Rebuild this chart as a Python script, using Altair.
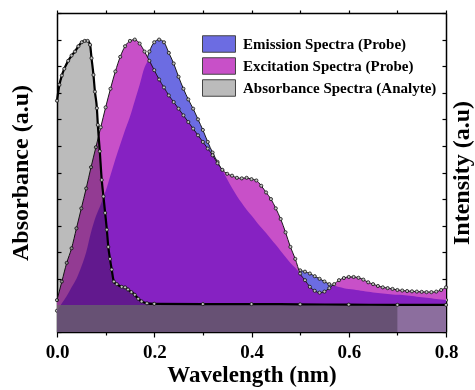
import altair as alt
import pandas as pd

# ---------------- data ----------------
x_grid = [0.00, 0.01, 0.02, 0.03, 0.04, 0.05, 0.06, 0.07, 0.08, 0.09,
          0.10, 0.11, 0.12, 0.13, 0.14, 0.15, 0.16, 0.17, 0.18, 0.19,
          0.20, 0.21, 0.22, 0.23, 0.24, 0.25, 0.26, 0.27, 0.28, 0.29,
          0.30, 0.31, 0.32, 0.33, 0.34, 0.35, 0.36, 0.37, 0.38, 0.39,
          0.40, 0.41, 0.42, 0.43, 0.44, 0.45, 0.46, 0.47, 0.48, 0.49,
          0.50, 0.51, 0.52, 0.53, 0.54, 0.55, 0.56, 0.57, 0.58, 0.59,
          0.60, 0.61, 0.62, 0.63, 0.64, 0.65, 0.66, 0.67, 0.68, 0.69,
          0.70, 0.71, 0.72, 0.73, 0.74, 0.75, 0.76, 0.77, 0.78, 0.79, 0.80]

emission = [0.8, 1.08, 1.35, 1.68, 2.0, 2.45, 3.0, 3.75, 4.35, 4.8,
            5.3, 5.9, 6.5, 7.05, 7.6, 8.1, 8.7, 9.3, 9.95, 10.55,
            10.9, 11.0, 10.9, 10.5, 10.1, 9.6, 9.15, 8.75, 8.4, 8.0,
            7.6, 7.15, 6.75, 6.4, 6.08, 5.75, 5.42, 5.12, 4.85, 4.6,
            4.38, 4.15, 3.93, 3.72, 3.5, 3.28, 3.05, 2.82, 2.6, 2.42,
            2.32, 2.27, 2.2, 2.1, 2.0, 1.9, 1.8, 1.74, 1.69, 1.65,
            1.62, 1.6, 1.57, 1.54, 1.51, 1.49, 1.47, 1.45, 1.43, 1.41,
            1.4, 1.39, 1.37, 1.35, 1.33, 1.31, 1.29, 1.27, 1.24, 1.22, 1.2]

excitation = [1.2, 1.9, 2.6, 3.15, 3.9, 4.65, 5.4, 6.2, 6.95, 7.7,
              8.45, 9.15, 9.8, 10.35, 10.75, 10.95, 11.0, 10.85, 10.55, 10.2,
              9.85, 9.5, 9.2, 8.9, 8.65, 8.4, 8.15, 7.9, 7.65, 7.4,
              7.15, 6.9, 6.65, 6.35, 6.1, 5.95, 5.88, 5.8, 5.78, 5.8,
              5.75, 5.7, 5.5, 5.25, 5.0, 4.65, 4.25, 3.75, 3.2, 2.75,
              2.2, 1.95, 1.7, 1.55, 1.48, 1.52, 1.65, 1.8, 1.95, 2.03,
              2.07, 2.07, 2.04, 1.97, 1.87, 1.8, 1.73, 1.68, 1.65, 1.62,
              1.58, 1.56, 1.54, 1.53, 1.52, 1.51, 1.5, 1.5, 1.52, 1.58, 1.68]

absorb_x = [0.0, 0.005, 0.01, 0.015, 0.023, 0.03, 0.037, 0.044, 0.051, 0.057,
            0.063, 0.068, 0.071, 0.075, 0.078, 0.082, 0.084, 0.088, 0.092, 0.0955,
            0.099, 0.1025, 0.1055, 0.109, 0.1125, 0.117, 0.123, 0.133, 0.14, 0.146,
            0.153, 0.16, 0.167, 0.174, 0.185, 0.2, 0.3, 0.4, 0.5, 0.6, 0.7, 0.8]
absorb_y = [8.7, 9.3, 9.65, 9.9, 10.2, 10.4, 10.55, 10.75, 10.9, 10.95,
            10.95, 10.8, 10.3, 9.67, 9.04, 8.42, 7.79, 6.8, 5.72, 5.1,
            4.48, 3.85, 3.2, 2.75, 2.35, 1.9, 1.8, 1.7, 1.68, 1.6,
            1.5, 1.4, 1.25, 1.15, 1.08, 1.06, 1.05, 1.05, 1.04, 1.03, 1.02, 1.02]

x_ticks = [0.0, 0.1, 0.2, 0.3, 0.4, 0.5, 0.6, 0.7, 0.8]
y_ticks = [0, 1, 2, 3, 4, 5, 6, 7, 8, 9, 10, 11, 12]

series_names = ["Emission Spectra (Probe)", "Excitation Spectra (Probe)",
                "Absorbance Spectra (Analyte)"]
series_colors = ["#6C6CE2", "#C850C8", "#BBBBBB"]
overlap_color = "#8622C2"
band_color = "#8F8F8F"

df_ee = pd.DataFrame({"x": x_grid, "em": emission, "ex": excitation})
df_ab = pd.DataFrame({"x": absorb_x, "ab": absorb_y})

FONT = "Liberation Serif"

xscale = alt.Scale(domain=[0, 0.8], nice=False, zero=False)
yscale = alt.Scale(domain=[0, 12], nice=False, zero=False)
cscale = alt.Scale(domain=series_names, range=series_colors)

axis_common = dict(domainColor="black", domainWidth=1.5, tickColor="black",
                   tickWidth=1.2, grid=False)

x_bottom = alt.X("x:Q", scale=xscale, axis=alt.Axis(
    orient="bottom", values=x_ticks, format=".1f",
    labelExpr="round(datum.value*10) % 2 == 0 ? datum.label : ''",
    tickSize={"condition": {"test": "round(datum.value*10) % 2 == 0", "value": 5}, "value": 3},
    labelFont=FONT, labelFontSize=19, labelFontWeight="bold", labelColor="black",
    labelPadding=5, labelOverlap=False, labelFlush=False,
    title="Wavelength (nm)", titleFont=FONT, titleFontSize=23, titleFontWeight="bold",
    titleColor="black", titlePadding=2, **axis_common))
x_top = alt.X("x:Q", scale=xscale, axis=alt.Axis(
    orient="top", values=x_ticks, labels=False, tickSize=3, title=None, **axis_common))
x_none = alt.X("x:Q", scale=xscale, axis=None)


def y_left(f):
    return alt.Y(f + ":Q", scale=yscale, axis=alt.Axis(
        orient="left", values=y_ticks, labels=False, tickSize={"expr": "-4"},
        title="Absorbance (a.u)", titleFont=FONT, titleFontSize=24, titleFontWeight="bold",
        titleColor="black", titlePadding=24, **axis_common))


def y_right(f):
    return alt.Y(f + ":Q", scale=yscale, axis=alt.Axis(
        orient="right", values=y_ticks, labels=False, tickSize={"expr": "-4"},
        title="Intensity (a.u)", titleFont=FONT, titleFontSize=24, titleFontWeight="bold",
        titleColor="black", titlePadding=3, titleAngle=270, titleBaseline="top",
        **axis_common))


def y_none(f):
    return alt.Y(f + ":Q", scale=yscale, axis=None)


legend = alt.Legend(
    title=None, orient="none", legendX=153, legendY=22, padding=0,
    labelFont=FONT, labelFontSize=15, labelFontWeight="bold", labelColor="black",
    labelLimit=0,
    symbolType="M-2,-1H2V1H-2Z", symbolSize=272, symbolStrokeColor="#444",
    symbolStrokeWidth=1, symbolOpacity=1, labelOffset=15, rowPadding=0)


def series_color():
    return alt.Color("series:N", scale=cscale, legend=legend)


base_ee = alt.Chart(df_ee)
base_ab = alt.Chart(df_ab)

em_area = base_ee.transform_calculate(series="'" + series_names[0] + "'").mark_area(
    interpolate="monotone").encode(x=x_bottom, y=y_left("em"), color=series_color())
em_line = base_ee.mark_line(interpolate="monotone", color="#1a1a1a", strokeWidth=1).encode(
    x=x_none, y=y_none("em"))
em_pts = base_ee.mark_point(filled=True, size=10, fill="#c0c0c0", stroke="#111",
                            strokeWidth=0.8, opacity=1).encode(x=x_none, y=y_none("em"))

ex_area = base_ee.transform_calculate(series="'" + series_names[1] + "'").mark_area(
    interpolate="monotone").encode(x=x_none, y=y_none("ex"), color=series_color())
ov_area = base_ee.transform_calculate(lo="min(datum.em, datum.ex)").mark_area(
    interpolate="monotone", color=overlap_color).encode(x=x_none, y=y_none("lo"))

# baseline band of the absorbance spectrum (its minimum) across the whole range
band = base_ab.transform_joinaggregate(base="min(ab)").mark_area(
    color=band_color, opacity=0.7).encode(x=x_none, y=y_none("base"))

ex_line = base_ee.mark_line(interpolate="monotone", color="#1a1a1a", strokeWidth=1).encode(
    x=x_none, y=y_none("ex"))
ex_pts = base_ee.mark_point(filled=True, size=10, fill="#c0c0c0", stroke="#111",
                            strokeWidth=0.8, opacity=1).encode(x=x_none, y=y_none("ex"))

ab_area = base_ab.transform_filter("datum.x <= 0.7").transform_calculate(
    series="'" + series_names[2] + "'").mark_area(
    interpolate="monotone", blend="multiply").encode(
    x=x_none, y=y_none("ab"), color=series_color())
ab_line = base_ab.mark_line(interpolate="monotone", color="black", strokeWidth=2.2).encode(
    x=x_top, y=y_right("ab"))
ab_pts = base_ab.mark_point(filled=True, size=10, fill="#c0c0c0", stroke="#111",
                            strokeWidth=0.8, opacity=1).encode(x=x_none, y=y_none("ab"))

chart = alt.layer(
    em_area, em_line, em_pts, ex_area, ov_area, band, ex_line, ex_pts,
    ab_area, ab_line, ab_pts
).resolve_axis(x="independent", y="independent").properties(
    width=389, height=319,
    autosize=alt.AutoSizeParams(type="none"),
    padding={"left": 57, "top": 13, "right": 29, "bottom": 58},
    background="white",
).configure_view(strokeWidth=0)

chart.save("out.html", embed_options={"renderer": "svg", "actions": False})
